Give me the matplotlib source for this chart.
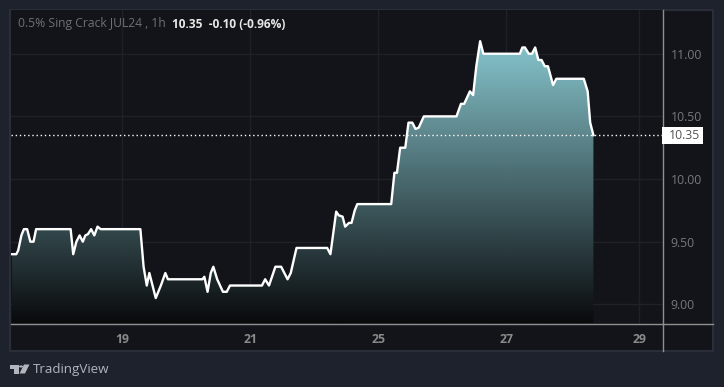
#!/usr/bin/env python3
"""0.5% Sing Crack JUL24, 1h area chart in the TradingView dark theme."""

import numpy as np
import matplotlib
matplotlib.use("Agg")
import matplotlib.pyplot as plt
from matplotlib.colors import LinearSegmentedColormap
from matplotlib.lines import Line2D
from matplotlib.patches import Polygon, Rectangle, Circle

# session position on the gapless axis (weekends are squeezed out, 1.0 = one trading day)
session = [
    17.27, 17.34, 17.37, 17.42, 17.46, 17.51, 17.56, 17.61, 17.65, 18.19,
    18.23, 18.28, 18.33, 18.38, 18.42, 18.46, 18.51, 18.56, 18.61, 18.66,
    19.28, 19.33, 19.38, 19.42, 19.52, 19.60, 19.67, 19.71, 20.25, 20.28,
    20.33, 20.38, 20.42, 20.48, 20.57, 20.63, 20.68, 21.18, 21.23, 21.29,
    21.39, 21.48, 21.58, 21.63, 21.72, 22.20, 22.25, 22.34, 22.38, 22.44,
    22.48, 22.54, 22.58, 22.63, 22.67, 23.20, 23.25, 23.29, 23.34, 23.42,
    23.47, 23.53, 23.58, 23.63, 23.71, 24.22, 24.29, 24.34, 24.43, 24.48,
    24.53, 24.59, 24.64, 25.21, 25.25, 25.29, 25.35, 25.40, 25.45, 25.50,
    25.55, 25.60, 25.65, 25.73, 25.78, 26.21, 26.27, 26.31, 26.36,
]
price = [
    9.40, 9.40, 9.43, 9.55, 9.60, 9.60, 9.50, 9.50, 9.60, 9.60,
    9.40, 9.50, 9.55, 9.50, 9.55, 9.56, 9.60, 9.55, 9.62, 9.60,
    9.60, 9.30, 9.15, 9.25, 9.05, 9.15, 9.25, 9.20, 9.20, 9.22,
    9.10, 9.25, 9.30, 9.20, 9.10, 9.10, 9.15, 9.15, 9.20, 9.15,
    9.30, 9.30, 9.20, 9.25, 9.45, 9.45, 9.40, 9.74, 9.71, 9.70,
    9.62, 9.65, 9.65, 9.75, 9.80, 9.80, 10.05, 10.05, 10.25, 10.25,
    10.45, 10.45, 10.40, 10.41, 10.50, 10.50, 10.60, 10.60, 10.70, 10.67,
    10.90, 11.10, 11.00, 11.00, 11.05, 11.05, 11.00, 11.00, 11.05, 10.95,
    10.95, 10.90, 10.90, 10.75, 10.80, 10.80, 10.70, 10.45, 10.35,
]
y_ticks = [9.0, 9.5, 10.0, 10.5, 11.0]
x_ticks = [19, 21, 23, 25, 27.08]
x_labels = ["19", "21", "25", "27", "29"]
last_price = 10.35

W, H = 724, 387
PAGE = "#1e222d"
PANE = "#131419"
BORDER = "#2a2e39"
GRID = "#1f2127"
AXIS = "#8f8f8f"

plt.rcParams["font.family"] = ["Open Sans", "DejaVu Sans"]


def fx(px):
    return px / W


def fy(py):
    return 1 - py / H


fig = plt.figure(figsize=(W / 100, H / 100), dpi=100, facecolor=PAGE)

# outer pane, including the axis strips
fig.add_artist(Rectangle((fx(10), fy(351)), fx(703), 341 / H, transform=fig.transFigure,
                         facecolor=PANE, edgecolor=BORDER, linewidth=1.5, zorder=-1))

ax = fig.add_axes([fx(10.5), fy(323.5), fx(652), 313.5 / H], facecolor=PANE)
ax.set_xlim(17.25, 27.44)
ax.set_ylim(8.847, 11.349)

ax.set_xticks(x_ticks, x_labels, fontsize=8.8, fontweight="bold", color="#8a8a8a")
ax.yaxis.tick_right()
ax.set_yticks(y_ticks, [f"{v:.2f}" for v in y_ticks], fontsize=8.8, color="#77787c")
ax.tick_params(axis="both", length=0)
ax.tick_params(axis="x", pad=6.5)
ax.tick_params(axis="y", pad=6)
ax.grid(True, color=GRID, linewidth=1)
ax.set_axisbelow(True)

for side in ["left", "top"]:
    ax.spines[side].set_visible(False)
for side in ["right", "bottom"]:
    ax.spines[side].set_color(AXIS)
    ax.spines[side].set_linewidth(1)

# axis lines carry on across the strips
fig.add_artist(Line2D([fx(662.5), fx(662.5)], [fy(323.5), fy(351)], color=AXIS, linewidth=1))
fig.add_artist(Line2D([fx(662.5), fx(713)], [fy(323.5), fy(323.5)], color=AXIS, linewidth=1))

# gradient area under the line
area_cmap = LinearSegmentedColormap.from_list("area", ["#090a0c", "#8ccdd5"])
gradient = np.linspace(1, 0, 256).reshape(-1, 1)
bottom = ax.get_ylim()[0]
img = ax.imshow(gradient, cmap=area_cmap, aspect="auto", zorder=1.5, alpha=0.97,
                extent=[session[0], session[-1], bottom, max(price)])
clip = Polygon(list(zip(session, price)) + [(session[-1], bottom), (session[0], bottom)],
               closed=True, transform=ax.transData, facecolor="none", edgecolor="none")
ax.add_patch(clip)
img.set_clip_path(clip)
ax.set_xlim(17.25, 27.44)
ax.set_ylim(8.847, 11.349)

ax.plot(session, price, color="white", linewidth=1.7, solid_joinstyle="round", zorder=3)

# last price line and label
ax.axhline(last_price, color="white", linewidth=1, linestyle=(0, (1, 2)), zorder=2.5)
fig.add_artist(Rectangle((fx(662), fy(144)), fx(41), 17 / H, transform=fig.transFigure,
                         facecolor="white", edgecolor="none", zorder=5))
fig.text(fx(684), fy(135.5), "10.35", fontsize=8.8, color="#555555", ha="center",
         va="center", zorder=6)

# header
fig.text(fx(18), fy(24), "0.5% Sing Crack JUL24 , 1h", fontsize=8.7, color="#6f7075", va="center")
fig.text(fx(172), fy(24), "10.35  -0.10 (-0.96%)", fontsize=8.6, color="#e8e8e8",
         fontweight="bold", va="center")

# TradingView logo and wordmark
LOGO = "#b2b5be"
fig.add_artist(Polygon([(fx(10), fy(364.5)), (fx(18.5), fy(364.5)), (fx(18.5), fy(373.5)), (fx(14), fy(373.5)),
                        (fx(14), fy(368.5)), (fx(10), fy(368.5))],
                       closed=True, transform=fig.transFigure, facecolor=LOGO, edgecolor="none"))
fig.add_artist(Polygon([(fx(24), fy(364.5)), (fx(29.5), fy(364.5)), (fx(25), fy(373.5)), (fx(19.5), fy(373.5))],
                       closed=True, transform=fig.transFigure, facecolor=LOGO, edgecolor="none"))
fig.add_artist(Circle((fx(21), fy(366.5)), 2.0 / W, transform=fig.transFigure, facecolor=LOGO, edgecolor="none"))
fig.text(fx(33), fy(369), "TradingView", fontsize=9.6, color=LOGO, va="center")

fig.savefig("out.png", dpi=100, facecolor=PAGE)
